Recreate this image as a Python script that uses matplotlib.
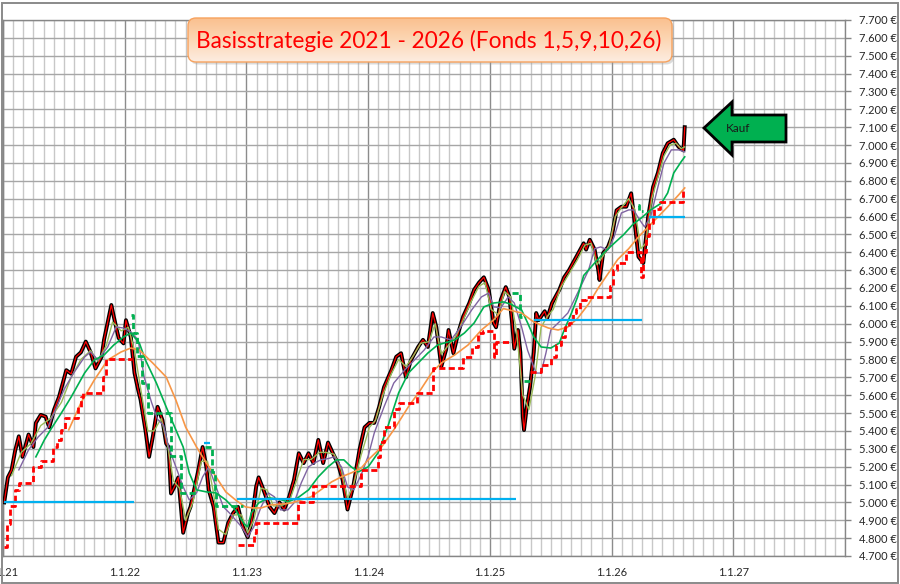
import numpy as np
import matplotlib
matplotlib.use('Agg')
import matplotlib.pyplot as plt
from matplotlib.patches import FancyBboxPatch, Polygon, Rectangle
from matplotlib.colors import LinearSegmentedColormap
from matplotlib.ticker import FixedLocator, FuncFormatter

# ---------------- data (decimal years, EUR) ----------------
price_t = [2021.01, 2021.04, 2021.07, 2021.10, 2021.13, 2021.16, 2021.21, 2021.25, 2021.27, 2021.31,
           2021.35, 2021.38, 2021.42, 2021.46, 2021.52, 2021.56, 2021.60, 2021.64, 2021.68, 2021.72,
           2021.76, 2021.81, 2021.83, 2021.89, 2021.91, 2021.95, 2021.99, 2022.01, 2022.05, 2022.08,
           2022.11, 2022.13, 2022.17, 2022.20, 2022.23, 2022.27, 2022.31, 2022.34, 2022.36, 2022.38,
           2022.41, 2022.44, 2022.48, 2022.52, 2022.54, 2022.60, 2022.64, 2022.67, 2022.69, 2022.73,
           2022.77, 2022.81, 2022.85, 2022.89, 2022.93, 2022.97, 2023.01, 2023.04, 2023.08, 2023.10,
           2023.14, 2023.19, 2023.23, 2023.27, 2023.31, 2023.35, 2023.39, 2023.43, 2023.47, 2023.51,
           2023.55, 2023.59, 2023.63, 2023.67, 2023.71, 2023.75, 2023.79, 2023.83, 2023.88, 2023.93,
           2023.97, 2024.01, 2024.05, 2024.09, 2024.13, 2024.19, 2024.23, 2024.27, 2024.31, 2024.35,
           2024.41, 2024.45, 2024.49, 2024.53, 2024.56, 2024.60, 2024.64, 2024.66, 2024.70, 2024.74,
           2024.78, 2024.83, 2024.87, 2024.91, 2024.95, 2024.99, 2025.03, 2025.05, 2025.09, 2025.13,
           2025.16, 2025.18, 2025.20, 2025.23, 2025.25, 2025.27, 2025.28, 2025.30, 2025.33, 2025.36,
           2025.38, 2025.40, 2025.45, 2025.47, 2025.51, 2025.57, 2025.61, 2025.65, 2025.71, 2025.77,
           2025.79, 2025.82, 2025.86, 2025.89, 2025.90, 2025.93, 2025.97, 2026.00, 2026.04, 2026.08,
           2026.12, 2026.16, 2026.18, 2026.22, 2026.26, 2026.30, 2026.34, 2026.38, 2026.42, 2026.46,
           2026.51, 2026.55, 2026.59, 2026.60]
price_v = [5000, 5140, 5180, 5290, 5370, 5255, 5380, 5310, 5445, 5490,
           5480, 5420, 5520, 5590, 5740, 5720, 5815, 5840, 5900, 5840,
           5750, 5815, 5910, 6105, 6040, 5920, 5890, 6020, 5925, 5725,
           5630, 5575, 5405, 5255, 5365, 5535, 5460, 5330, 5310, 5050,
           5090, 5140, 4830, 4940, 4975, 5165, 5310, 5200, 5070, 4975,
           4775, 4775, 4885, 4940, 4975, 4865, 4805, 4885, 5090, 5140,
           5070, 4975, 4940, 5000, 4960, 5030, 5125, 5275, 5220, 5275,
           5220, 5350, 5220, 5335, 5275, 5220, 5125, 4960, 5100, 5300,
           5420, 5445, 5445, 5535, 5645, 5740, 5815, 5835, 5700, 5795,
           5870, 5910, 5870, 6060, 5980, 5760, 5855, 5965, 5835, 5950,
           6040, 6115, 6190, 6230, 6260, 6190, 6005, 5980, 6135, 6205,
           6150, 6020, 5860, 5965, 5840, 5480, 5405, 5520, 5650, 5840,
           6060, 6020, 6070, 6030, 6115, 6190, 6260, 6300, 6375, 6450,
           6415, 6470, 6415, 6300, 6245, 6395, 6430, 6485, 6635, 6655,
           6655, 6730, 6620, 6375, 6340, 6600, 6765, 6845, 6955, 7010,
           7030, 6990, 6970, 7100]

olive_t = [2021.07, 2021.15, 2021.23, 2021.31, 2021.39, 2021.48, 2021.56, 2021.64, 2021.72, 2021.78,
           2021.85, 2021.90, 2021.97, 2022.03, 2022.08, 2022.13, 2022.19, 2022.24, 2022.30, 2022.35,
           2022.40, 2022.45, 2022.50, 2022.56, 2022.63, 2022.68, 2022.73, 2022.77, 2022.83, 2022.89,
           2022.96, 2023.01, 2023.06, 2023.12, 2023.17, 2023.22, 2023.28, 2023.35, 2023.41, 2023.47,
           2023.53, 2023.60, 2023.65, 2023.72, 2023.78, 2023.83, 2023.88, 2023.94, 2024.01, 2024.06,
           2024.12, 2024.19, 2024.25, 2024.31, 2024.37, 2024.43, 2024.50, 2024.55, 2024.60, 2024.66,
           2024.72, 2024.78, 2024.85, 2024.91, 2024.96, 2025.01, 2025.07, 2025.12, 2025.17, 2025.22,
           2025.27, 2025.32, 2025.37, 2025.42, 2025.47, 2025.52, 2025.58, 2025.65, 2025.72, 2025.78,
           2025.83, 2025.88, 2025.93, 2025.98, 2026.03, 2026.08, 2026.14, 2026.19, 2026.24, 2026.28,
           2026.33, 2026.38, 2026.43, 2026.48, 2026.53, 2026.57, 2026.60]
olive_v = [5150, 5280, 5330, 5430, 5470, 5560, 5700, 5800, 5850, 5790,
           5880, 6010, 5960, 5980, 5850, 5640, 5400, 5400, 5470, 5330,
           5120, 5080, 4900, 5000, 5230, 5230, 5050, 4850, 4820, 4930,
           4930, 4830, 4900, 5080, 5070, 4980, 4980, 5000, 5120, 5240,
           5240, 5280, 5280, 5270, 5180, 5020, 5100, 5260, 5420, 5460,
           5600, 5720, 5800, 5760, 5820, 5890, 5900, 6000, 5830, 5880,
           5930, 6020, 6130, 6210, 6230, 6080, 6050, 6180, 6150, 5950,
           5600, 5520, 5700, 5980, 6040, 6080, 6200, 6280, 6360, 6440,
           6450, 6330, 6380, 6440, 6600, 6650, 6700, 6640, 6420, 6450,
           6700, 6820, 6940, 7000, 7010, 6980, 6990]

purple_t = [2021.13, 2021.21, 2021.29, 2021.37, 2021.42, 2021.50, 2021.58, 2021.67, 2021.72, 2021.78,
            2021.86, 2021.93, 2021.99, 2022.05, 2022.11, 2022.16, 2022.22, 2022.27, 2022.32, 2022.36,
            2022.42, 2022.48, 2022.53, 2022.59, 2022.64, 2022.69, 2022.75, 2022.81, 2022.86, 2022.96,
            2023.01, 2023.06, 2023.12, 2023.18, 2023.23, 2023.28, 2023.34, 2023.39, 2023.45, 2023.51,
            2023.56, 2023.61, 2023.67, 2023.72, 2023.78, 2023.83, 2023.88, 2023.94, 2024.00, 2024.05,
            2024.13, 2024.21, 2024.30, 2024.38, 2024.46, 2024.54, 2024.60, 2024.68, 2024.76, 2024.85,
            2024.93, 2024.99, 2025.03, 2025.09, 2025.15, 2025.20, 2025.26, 2025.31, 2025.36, 2025.38,
            2025.42, 2025.46, 2025.50, 2025.56, 2025.64, 2025.72, 2025.81, 2025.86, 2025.91, 2025.97,
            2026.02, 2026.08, 2026.14, 2026.18, 2026.23, 2026.27, 2026.32, 2026.38, 2026.43, 2026.49,
            2026.55, 2026.60]
purple_v = [5182, 5294, 5367, 5422, 5501, 5630, 5724, 5814, 5842, 5797,
            5870, 5982, 5976, 5954, 5909, 5700, 5560, 5465, 5430, 5310,
            5199, 5087, 5014, 5053, 5143, 5199, 5087, 4975, 4941, 4863,
            4807, 4863, 4975, 5053, 5031, 4958, 4958, 4997, 5109, 5199,
            5221, 5238, 5245, 5255, 5199, 5087, 5070, 5150, 5260, 5389,
            5535, 5668, 5741, 5797, 5853, 5926, 5926, 5909, 5982, 6077,
            6150, 6172, 6094, 6090, 6150, 6116, 5982, 5850, 5758, 5724,
            5724, 5836, 5965, 6004, 6060, 6172, 6300, 6420, 6430, 6413,
            6486, 6620, 6637, 6637, 6581, 6542, 6598, 6766, 6900, 6973,
            6973, 6962]

green_t = [2021.27, 2021.34, 2021.39, 2021.48, 2021.56, 2021.67, 2021.75, 2021.83, 2021.91, 2021.99,
           2022.05, 2022.12, 2022.17, 2022.26, 2022.34, 2022.41, 2022.48, 2022.53, 2022.59, 2022.67,
           2022.75, 2022.83, 2022.91, 2022.98, 2023.01, 2023.04, 2023.10, 2023.18, 2023.26, 2023.34,
           2023.42, 2023.51, 2023.59, 2023.67, 2023.74, 2023.80, 2023.86, 2023.92, 2024.00, 2024.08,
           2024.16, 2024.25, 2024.33, 2024.41, 2024.49, 2024.57, 2024.71, 2024.79, 2024.87, 2024.95,
           2025.03, 2025.11, 2025.17, 2025.26, 2025.31, 2025.36, 2025.42, 2025.50, 2025.57, 2025.61,
           2025.67, 2025.72, 2025.77, 2025.86, 2025.94, 2026.02, 2026.10, 2026.18, 2026.24, 2026.32,
           2026.41, 2026.46, 2026.51, 2026.57, 2026.60]
green_v = [5255, 5350, 5406, 5501, 5590, 5724, 5797, 5825, 5881, 5926,
           5948, 5892, 5797, 5668, 5535, 5422, 5310, 5165, 5070, 5059,
           5053, 5014, 4958, 4880, 4863, 4941, 4997, 5025, 5020, 5003,
           5025, 5070, 5143, 5199, 5238, 5238, 5199, 5171, 5199, 5277,
           5422, 5613, 5724, 5780, 5836, 5881, 5909, 5948, 6004, 6094,
           6116, 6122, 6110, 6077, 6004, 5926, 5870, 5864, 5892, 5965,
           6060, 6150, 6270, 6340, 6400, 6450, 6500, 6560, 6590, 6637,
           6676, 6732, 6844, 6906, 6934]

orange_t = [2021.54, 2021.64, 2021.75, 2021.86, 2021.97, 2022.05, 2022.12, 2022.23, 2022.34, 2022.42,
            2022.50, 2022.59, 2022.67, 2022.75, 2022.83, 2022.91, 2022.99, 2023.05, 2023.12, 2023.20,
            2023.28, 2023.37, 2023.45, 2023.53, 2023.61, 2023.70, 2023.78, 2023.86, 2023.94, 2024.00,
            2024.11, 2024.21, 2024.33, 2024.43, 2024.52, 2024.60, 2024.71, 2024.82, 2024.93, 2025.03,
            2025.11, 2025.26, 2025.36, 2025.48, 2025.56, 2025.64, 2025.72, 2025.81, 2025.89, 2025.97,
            2026.05, 2026.14, 2026.22, 2026.30, 2026.38, 2026.46, 2026.55, 2026.60]
orange_v = [5406, 5557, 5685, 5797, 5842, 5864, 5853, 5780, 5702, 5573,
            5422, 5310, 5221, 5143, 5059, 5014, 4975, 4969, 4969, 4986,
            4990, 4997, 5014, 5031, 5070, 5115, 5143, 5165, 5190, 5238,
            5310, 5406, 5535, 5630, 5724, 5780, 5825, 5881, 5965, 6021,
            6085, 6060, 6010, 5976, 5965, 5982, 6030, 6110, 6200, 6280,
            6360, 6420, 6486, 6542, 6598, 6654, 6721, 6760]

# trailing stop (red dashed), step values
stop1_t = [2021.01, 2021.03, 2021.06, 2021.10, 2021.13, 2021.25, 2021.31, 2021.41, 2021.44, 2021.48,
           2021.51, 2021.62, 2021.64, 2021.66, 2021.82, 2021.85, 2022.06]
stop1_v = [4750, 4880, 4980, 5070, 5110, 5200, 5230, 5310, 5350, 5405,
           5475, 5535, 5590, 5615, 5700, 5800, 5800]
stop2_t = [2022.93, 2023.06, 2023.08, 2023.42, 2023.55, 2023.94, 2024.08, 2024.10, 2024.13, 2024.21,
           2024.25, 2024.40, 2024.53, 2024.78, 2024.85, 2024.90, 2024.94, 2025.03, 2025.05, 2025.18]
stop2_v = [4762, 4830, 4885, 5000, 5090, 5180, 5255, 5340, 5420, 5520,
           5557, 5613, 5750, 5814, 5870, 5950, 5960, 5814, 5900, 5900]
stop3_t = [2025.33, 2025.42, 2025.50, 2025.54, 2025.58, 2025.62, 2025.65, 2025.68, 2025.71, 2025.74,
           2025.79, 2025.99, 2026.01, 2026.04, 2026.12, 2026.24, 2026.26, 2026.28, 2026.31, 2026.34,
           2026.35, 2026.40, 2026.59, 2026.60]
stop3_v = [5730, 5770, 5815, 5880, 5925, 5980, 6005, 6060, 6080, 6135,
           6150, 6210, 6300, 6340, 6400, 6262, 6400, 6490, 6565, 6600,
           6640, 6680, 6750, 6750]

# green dashed (buy stop from above), step values
gstop1_t = [2022.05, 2022.07, 2022.10, 2022.14, 2022.19, 2022.38, 2022.46, 2022.60]
gstop1_v = [6050, 5950, 5820, 5670, 5500, 5260, 5055, 5055]
gstop2_t = [2022.66, 2022.72, 2022.74, 2022.75, 2022.97]
gstop2_v = [5310, 5170, 5070, 4980, 4980]
gstop3_t = [2025.18, 2025.25, 2025.26]
gstop3_v = [6172, 6040, 6040]
gstop4_t = [2025.28, 2025.33]
gstop4_v = [5680, 5680]
gstop5_t = [2026.215, 2026.225, 2026.26]
gstop5_v = [6665, 6630, 6630]

# cyan reference levels
cyan_start = [2021.01, 2022.65, 2022.92, 2025.36, 2026.31]
cyan_end = [2022.08, 2022.70, 2025.21, 2026.25, 2026.60]
cyan_level = [5000, 5330, 5020, 6020, 6600]

years = [2021, 2022, 2023, 2024, 2025, 2026, 2027]
year_labels = ['1.1.21', '1.1.22', '1.1.23', '1.1.24', '1.1.25', '1.1.26', '1.1.27']
y_min, y_max, y_step = 4700, 7700, 100
title = 'Basisstrategie 2021 - 2026 (Fonds 1,5,9,10,26)'
arrow_text = 'Kauf'

# ---------------- figure ----------------
W, H = 900, 584
plt.rcParams['font.family'] = ['Lato', 'DejaVu Sans']
fig = plt.figure(figsize=(W / 100, H / 100), dpi=100)
fig.patch.set_facecolor('white')


def fx(px):
    return px / W


def fy(py):
    return 1 - py / H


ax = fig.add_axes([fx(3), fy(556), fx(845) - fx(3), fy(20) - fy(556)])
ax.set_xlim(2021.0, 2027 + 11 / 12)
ax.set_ylim(y_min, y_max)

ax.xaxis.set_major_locator(FixedLocator(years))
ax.set_xticklabels(year_labels)
months = [2021 + m / 12 for m in range(0, 84) if m % 12 != 0]
ax.xaxis.set_minor_locator(FixedLocator(months))
ax.yaxis.set_major_locator(FixedLocator(list(range(y_min, y_max + 1, y_step))))
ax.yaxis.set_major_formatter(FuncFormatter(lambda v, p: f"{v:,.0f} €".replace(',', '.')))
ax.yaxis.tick_right()

ax.grid(which='minor', axis='x', color='#c8c8c8', lw=1.0)
ax.grid(which='major', axis='x', color='#8c8c8c', lw=1.0)
ax.grid(which='major', axis='y', color='#a6a6a6', lw=1.0)
ax.set_axisbelow(True)
ax.tick_params(axis='x', which='both', length=0, pad=8, labelsize=8, labelcolor='#262626')
ax.tick_params(axis='y', which='major', length=4, width=1, color='#868686', pad=6,
               labelsize=8, labelcolor='#262626')
for s in ax.spines.values():
    s.set_color('#868686')
    s.set_linewidth(1.0)

# series
ax.plot(price_t, price_v, color='black', lw=2.8, zorder=3, solid_joinstyle='round')
ax.plot(price_t, price_v, color='#FF0000', lw=0.9, zorder=4)
ax.plot(olive_t, olive_v, color='#9BBB59', lw=1.0, zorder=5)
ax.plot(purple_t, purple_v, color='#8064A2', lw=1.0, zorder=5)
ax.plot(green_t, green_v, color='#00B050', lw=1.2, zorder=5)
ax.plot(orange_t, orange_v, color='#F79646', lw=1.2, zorder=5)
for tt, vv in [(stop1_t, stop1_v), (stop2_t, stop2_v), (stop3_t, stop3_v)]:
    ax.plot(tt, vv, color='#FF0000', lw=2.0, ls=(0, (2.2, 1.2)), drawstyle='steps-post', zorder=6)
for tt, vv in [(gstop1_t, gstop1_v), (gstop2_t, gstop2_v), (gstop3_t, gstop3_v),
               (gstop4_t, gstop4_v), (gstop5_t, gstop5_v)]:
    ax.plot(tt, vv, color='#00B050', lw=2.0, ls=(0, (2.2, 1.2)), drawstyle='steps-post', zorder=6)
ax.hlines(cyan_level, cyan_start, cyan_end, color='#00B0F0', lw=1.6, zorder=7)

# ---------------- overlay (title box, arrow, border) ----------------
ov = fig.add_axes([0, 0, 1, 1], zorder=10)
ov.patch.set_alpha(0)
ov.axis('off')

bx0, by0, bw, bh = 188, 18, 484, 44
shadow = FancyBboxPatch((bx0 + 2, by0 + 2.5), bw, bh, boxstyle='round,pad=0,rounding_size=8',
                        fc='#9a9a9a', ec='none', alpha=0.35)
ov.add_patch(shadow)
box = FancyBboxPatch((bx0, by0), bw, bh, boxstyle='round,pad=0,rounding_size=8',
                     fc='none', ec='#F7A25E', lw=1.0, zorder=3)
ov.add_patch(box)
cmap = LinearSegmentedColormap.from_list('peach', ['#FDEDE1', '#FCD7B5', '#FAC08F'])
grad = np.linspace(0, 1, 200).reshape(-1, 1)
im = ov.imshow(grad, cmap=cmap, extent=(bx0, bx0 + bw, by0, by0 + bh), origin='upper',
               aspect='auto', zorder=2)
im.set_clip_path(box)
ov.text(bx0 + bw / 2 - 1, by0 + bh / 2 + 1, title, color='#FF0000', fontsize=16.3,
        ha='center', va='center', zorder=4)

arrow = Polygon([(704, 128), (732, 102), (732, 115), (786, 115), (786, 142), (732, 142), (732, 155)],
                closed=True, fc='#00B050', ec='black', lw=2.0, joinstyle='miter', zorder=3)
ov.add_patch(arrow)
ov.text(738, 128, arrow_text, color='#1a1a1a', fontsize=8.5, ha='center', va='center', zorder=4)

ov.add_patch(Rectangle((2, 3), 896, 579.5, fill=False, ec='#8a8a8a', lw=1.4, zorder=5))
ov.set_xlim(0, W)
ov.set_ylim(H, 0)

fig.savefig('out.png', dpi=100)
